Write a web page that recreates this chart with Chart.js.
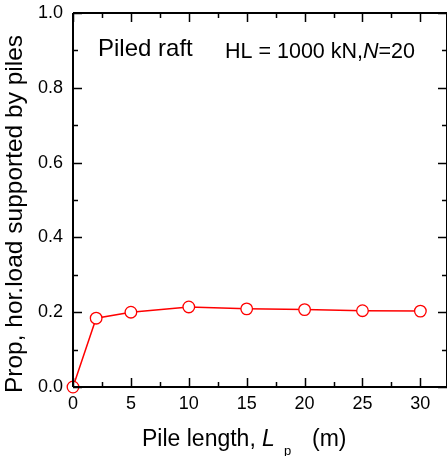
<!DOCTYPE html>
<html>
<head>
<meta charset="utf-8">
<script src="https://cdn.jsdelivr.net/npm/chart.js@4"></script>
<style>
  html, body { margin: 0; padding: 0; background: #fff; }
  #wrap { width: 447px; height: 456px; }
</style>
</head>
<body>
<div id="wrap"><canvas id="pileChart" width="447" height="456"></canvas></div>
<script>
// pile length (m) vs proportion of horizontal load carried by the piles
const pileLength = [0, 2, 5, 10, 15, 20, 25, 30];
const loadShare = [0.0, 0.184, 0.200, 0.214, 0.209, 0.207, 0.204, 0.203];
const xTickLabels = [0, 5, 10, 15, 20, 25, 30];
const yTickLabels = [0.0, 0.2, 0.4, 0.6, 0.8, 1.0];
const xMinorTicks = [2.5, 7.5, 12.5, 17.5, 22.5, 27.5];
const yMinorTicks = [0.1, 0.3, 0.5, 0.7, 0.9];

const FONT = "'Liberation Sans', Arial, sans-serif";

// inward ticks on all four sides, frame, axis titles and the two notes
const framePlugin = {
    id: 'frame',
    afterDraw(chart) {
        const ctx = chart.ctx;
        const a = chart.chartArea;
        const xs = chart.scales.x, ys = chart.scales.y;
        ctx.save();
        ctx.strokeStyle = '#000';
        ctx.lineWidth = 2;
        ctx.beginPath();
        ctx.moveTo(a.left, a.top); ctx.lineTo(a.right, a.top);
        ctx.moveTo(a.left, a.top); ctx.lineTo(a.left, a.bottom);
        ctx.moveTo(a.left, a.bottom); ctx.lineTo(a.right, a.bottom);
        ctx.moveTo(a.right, a.top); ctx.lineTo(a.right, a.bottom);
        ctx.stroke();

        ctx.lineWidth = 1.5;
        ctx.beginPath();
        const xt = (v, len) => {
            const p = Math.round(xs.getPixelForValue(v)) + 0.5;
            ctx.moveTo(p, a.bottom); ctx.lineTo(p, a.bottom - len);
            ctx.moveTo(p, a.top); ctx.lineTo(p, a.top + len);
        };
        const yt = (v, len) => {
            const p = Math.round(ys.getPixelForValue(v)) + 0.5;
            ctx.moveTo(a.left, p); ctx.lineTo(a.left + len, p);
            ctx.moveTo(a.right, p); ctx.lineTo(a.right - len, p);
        };
        xTickLabels.forEach(v => xt(v, 9));
        xMinorTicks.forEach(v => xt(v, 5));
        yTickLabels.forEach(v => yt(v, 9));
        yMinorTicks.forEach(v => yt(v, 5));
        ctx.stroke();

        // notes inside the plot
        ctx.fillStyle = '#000';
        ctx.textBaseline = 'alphabetic';
        ctx.textAlign = 'left';
        ctx.font = '24px ' + FONT;
        ctx.fillText('Piled raft', 98, 56);
        ctx.font = '21.5px ' + FONT;
        let x = 225;
        const part1 = 'HL = 1000 kN,';
        ctx.fillText(part1, x, 58);
        x += ctx.measureText(part1).width;
        ctx.font = 'italic 21.5px ' + FONT;
        ctx.fillText('N', x, 58);
        x += ctx.measureText('N').width;
        ctx.font = '21.5px ' + FONT;
        ctx.fillText('=20', x, 58);

        // x axis title with italic L and subscript p
        ctx.font = '23px ' + FONT;
        ctx.fillText('Pile length,', 142, 446);
        ctx.font = 'italic 23px ' + FONT;
        ctx.fillText('L', 262, 446);
        ctx.font = '13px ' + FONT;
        ctx.fillText('p', 284, 455);
        ctx.font = '23px ' + FONT;
        ctx.fillText('(m)', 312, 446);

        // y axis title
        ctx.translate(22, 214);
        ctx.rotate(-Math.PI / 2);
        ctx.textAlign = 'center';
        ctx.font = '24.5px ' + FONT;
        ctx.fillText('Prop, hor.load supported by piles', 0, 0);
        ctx.restore();
    }
};

new Chart(document.getElementById('pileChart'), {
    type: 'line',
    data: {
        datasets: [{
            data: pileLength.map((v, i) => ({ x: v, y: loadShare[i] })),
            borderColor: '#ff0000',
            borderWidth: 1.5,
            pointRadius: 5.8,
            pointBackgroundColor: '#ffffff',
            pointBorderColor: '#ff0000',
            pointBorderWidth: 1.3,
            tension: 0
        }]
    },
    options: {
        responsive: false,
        animation: false,
        clip: false,
        layout: { autoPadding: false, padding: { top: 13, right: 0, left: 0, bottom: 0 } },
        plugins: {
            legend: { display: false },
            tooltip: { enabled: false }
        },
        scales: {
            x: {
                type: 'linear',
                min: 0,
                max: 32.3,
                afterBuildTicks: s => { s.ticks = xTickLabels.map(v => ({ value: v })); },
                afterFit: s => { s.height = 69; s.paddingLeft = 0; s.paddingRight = 0; },
                grid: { display: false, drawTicks: false },
                border: { display: false },
                ticks: {
                    color: '#000',
                    padding: 6,
                    maxRotation: 0,
                    font: { family: FONT, size: 18 }
                }
            },
            y: {
                min: 0,
                max: 1,
                afterBuildTicks: s => { s.ticks = yTickLabels.map(v => ({ value: v })); },
                afterFit: s => { s.width = 73; s.paddingTop = 0; s.paddingBottom = 0; },
                grid: { display: false, drawTicks: false },
                border: { display: false },
                ticks: {
                    color: '#000',
                    padding: 10,
                    font: { family: FONT, size: 18 },
                    callback: v => v.toFixed(1)
                }
            }
        }
    },
    plugins: [framePlugin]
});
</script>
</body>
</html>
